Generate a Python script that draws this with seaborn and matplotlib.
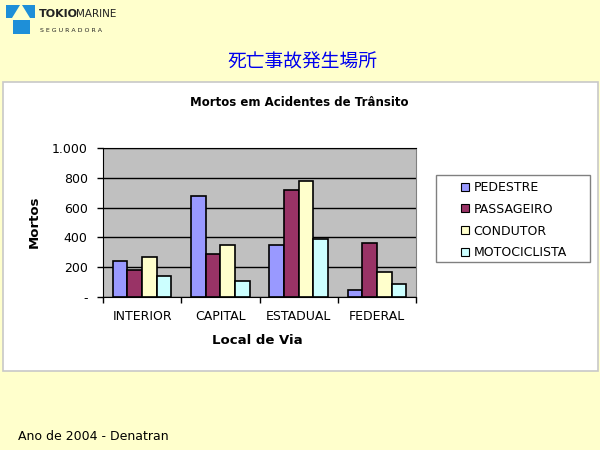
import pandas as pd
import seaborn as sns
import matplotlib.pyplot as plt
import matplotlib.patches as mpatches
from matplotlib.ticker import FuncFormatter, FixedLocator

# DATA
categories = ["INTERIOR", "CAPITAL", "ESTADUAL", "FEDERAL"]
series = ["PEDESTRE", "PASSAGEIRO", "CONDUTOR", "MOTOCICLISTA"]
pedestre = [240, 680, 352, 47]
passageiro = [179, 291, 716, 360]
condutor = [266, 352, 776, 170]
motociclista = [139, 110, 392, 85]
yticks = [0, 200, 400, 600, 800, 1000]

colors = ["#9999FF", "#993366", "#FFFFCC", "#CCFFFF"]
page_bg = "#FFFFCC"

rows = []
for name, vals in zip(series, [pedestre, passageiro, condutor, motociclista]):
    for cat, v in zip(categories, vals):
        rows.append({"local": cat, "tipo": name, "mortos": v})
df = pd.DataFrame(rows)

plt.rcParams['font.family'] = ['DejaVu Sans']

fig = plt.figure(figsize=(6, 4.5), dpi=100)
fig.patch.set_facecolor(page_bg)

def fx(px):
    return px / 600

def fy(py):
    return 1 - py / 450

# white chart box (behind everything)
fig.patches.append(mpatches.Rectangle((fx(3), fy(371)), fx(595), (371 - 82) / 450,
                                      transform=fig.transFigure, facecolor="white",
                                      edgecolor="#C8C8C8", lw=1.2, zorder=-5))

# logo (rough)
logo_blue = "#1E8FD8"
for pts in [[(6, 5), (20, 5), (12, 18), (6, 18)],
            [(22, 5), (35, 5), (35, 18), (30, 18)],
            [(13, 20), (30, 20), (30, 34), (13, 34)]]:
    fig.patches.append(mpatches.Polygon([(fx(a), fy(b)) for a, b in pts], closed=True,
                                        transform=fig.transFigure, facecolor=logo_blue,
                                        edgecolor="none", zorder=-4))
fig.text(fx(39), fy(14), "TOKIO", fontsize=8, fontweight="bold", color="#222222",
         va="center", ha="left")
fig.text(fx(76), fy(14), "MARINE", fontsize=7.5, color="#222222",
         va="center", ha="left")
fig.text(fx(40), fy(30), "S E G U R A D O R A", fontsize=4.5, color="#222222",
         va="center", ha="left")

# headings
fig.text(fx(302), fy(62), "死亡事故発生場所", fontsize=13.5, color="#0000EE",
         family=['Noto Sans CJK JP', 'DejaVu Sans'], ha="center", va="center")
fig.text(fx(299), fy(103), "Mortos em Acidentes de Trânsito", fontsize=8.5,
         fontweight="bold", ha="center", va="center")
fig.text(fx(18), fy(436), "Ano de 2004 - Denatran", fontsize=9, ha="left", va="center")

# plot area
ax = fig.add_axes([fx(103), fy(297), fx(416 - 103), (297 - 148) / 450], zorder=2)
ax.set_facecolor("#C0C0C0")
sns.barplot(data=df, x="local", y="mortos", hue="tipo", order=categories, hue_order=series,
            palette=colors, width=0.75, edgecolor="black", linewidth=1.2, saturation=1,
            legend=False, ax=ax)
ax.set_ylim(0, 1000)
ax.set_xlim(-0.5, len(categories) - 0.5)
ax.yaxis.set_major_locator(FixedLocator(yticks))
ax.yaxis.set_major_formatter(FuncFormatter(
    lambda v, p: "-" if v == 0 else f"{int(v):,}".replace(",", ".")))
ax.yaxis.grid(True, color="black", lw=1)
ax.set_axisbelow(True)
ax.tick_params(axis="y", length=4, width=1, pad=7, labelsize=9)
ax.tick_params(axis="x", which="major", length=0, pad=9, labelsize=9)
ax.set_xticks([i - 0.5 for i in range(len(categories) + 1)], minor=True)
ax.tick_params(axis="x", which="minor", length=4, width=1)
for s in ["left", "bottom", "top"]:
    ax.spines[s].set_color("black")
ax.spines["right"].set_color("#808080")
ax.set_xlabel("")
ax.set_ylabel("")
fig.text(fx(34), fy(222), "Mortos", fontsize=9.5, fontweight="bold", rotation=90,
         ha="center", va="center")
fig.text(fx(257), fy(340), "Local de Via", fontsize=9.5, fontweight="bold",
         ha="center", va="center")

# legend
fig.patches.append(mpatches.Rectangle((fx(436), fy(262)), fx(590 - 436), (262 - 175) / 450,
                                      transform=fig.transFigure, facecolor="white",
                                      edgecolor="#808080", lw=1, zorder=-3))
handles = [mpatches.Patch(facecolor=c, edgecolor="black", lw=0.8, label=n)
           for c, n in zip(colors, series)]
fig.legend(handles=handles, loc="upper left", bbox_to_anchor=(fx(456), fy(176)),
           frameon=False, fontsize=9, handlelength=0.6, handleheight=0.6,
           handletextpad=0.4, labelspacing=0.7, borderaxespad=0)

fig.savefig("out.png", dpi=100, facecolor=page_bg)
